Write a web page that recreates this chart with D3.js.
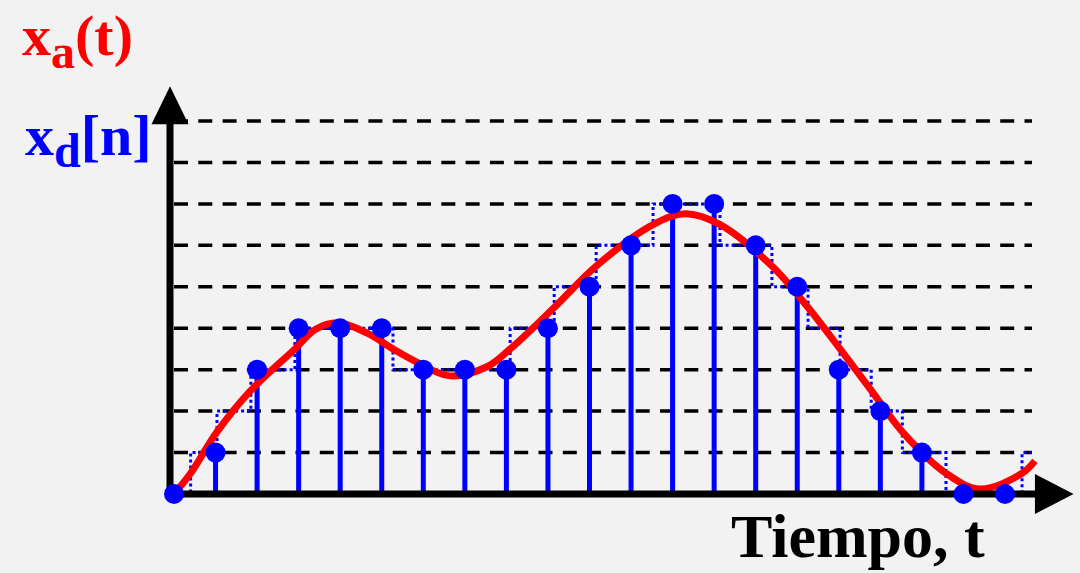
<!DOCTYPE html>
<html>
<head>
<meta charset="utf-8">
<script src="https://cdn.jsdelivr.net/npm/d3@7"></script>
<style>
  html, body { margin: 0; padding: 0; background: #f2f2f2; }
  svg { display: block; }
</style>
</head>
<body>
<div id="chart"></div>
<script>
// muestras (índice n) y su nivel cuantizado
var samples = [0,1,2,3,4,5,6,7,8,9,10,11,12,13,14,15,16,17,18,19,20];
var sampleLevels = [0,1,3,4,4,4,3,3,3,4,5,6,7,7,6,5,3,2,1,0,0];

// señal analógica x_a(t) (t en periodos, nivel)
var analogT = [0,0.4,1.035,1.85,2.91,3.4,3.95,4.65,5.27,5.75,6.64,7.53,8.09,9.15,10.16,11.53,12.3,13.14,14.39,15.26,16.03,16.78,17.53,18.58,19.4,20.41,20.72];
var analogLevel = [0,0.5,1.5,2.5,3.5,3.97,4.13,3.88,3.5,3.23,2.85,3.07,3.5,4.5,5.5,6.5,6.76,6.5,5.5,4.5,3.5,2.5,1.5,0.5,0.12,0.5,0.8];

// escalera punteada (cuantización): instantes de cambio y nivel
var stepT = [0,0.4,1.035,1.85,2.91,5.27,8.09,9.15,10.16,11.53,13.14,14.39,15.26,16.03,16.78,17.53,18.58,20.41,20.62];
var stepLevel = [0,1,2,3,4,3,4,5,6,7,6,5,4,3,2,1,0,1,1];

// niveles de cuantización (líneas discontinuas)
var gridLevels = [1,2,3,4,5,6,7,8,9];

var W = 1080, H = 573;
var svg = d3.select("#chart").append("svg").attr("width", W).attr("height", H);
svg.append("rect").attr("width", W).attr("height", H).attr("fill", "#f2f2f2");

var x = d3.scaleLinear().domain([0, 20]).range([174, 1005]);
var y = d3.scaleLinear().domain([0, 9]).range([494, 121]);

// líneas de nivel
svg.append("g").selectAll("line").data(gridLevels).join("line")
  .attr("x1", x(0)).attr("x2", x(20.65))
  .attr("y1", function(d){ return y(d); }).attr("y2", function(d){ return y(d); })
  .attr("stroke", "#000").attr("stroke-width", 3.5)
  .attr("stroke-dasharray", "14,10.3");

// escalera punteada
var stepData = stepT.map(function(t, i){ return [t, stepLevel[i]]; });
svg.append("path")
  .datum(stepData)
  .attr("d", d3.line().x(function(d){ return x(d[0]); }).y(function(d){ return y(d[1]); }).curve(d3.curveStepAfter))
  .attr("fill", "none").attr("stroke", "#0000ff").attr("stroke-width", 3)
  .attr("stroke-dasharray", "3,3");

// tallos
svg.append("g").selectAll("line").data(samples).join("line")
  .attr("x1", function(d){ return x(d); }).attr("x2", function(d){ return x(d); })
  .attr("y1", y(0)).attr("y2", function(d){ return y(sampleLevels[d]); })
  .attr("stroke", "#0000ff").attr("stroke-width", 5);

// señal analógica
var analogData = analogT.map(function(t, i){ return [t, analogLevel[i]]; });
svg.append("path")
  .datum(analogData)
  .attr("d", d3.line().x(function(d){ return x(d[0]); }).y(function(d){ return y(d[1]); }).curve(d3.curveCatmullRom.alpha(0.5)))
  .attr("fill", "none").attr("stroke", "#ff0000").attr("stroke-width", 7)
  .attr("stroke-linejoin", "round");

// ejes con flechas
var axisX0 = x(0) - 4;
svg.append("line")
  .attr("x1", axisX0).attr("x2", axisX0)
  .attr("y1", y(0) + 3.5).attr("y2", y(9.2))
  .attr("stroke", "#000").attr("stroke-width", 7);
svg.append("path")
  .attr("d", "M" + axisX0 + "," + y(9.84) + "L" + (axisX0 - 18.5) + "," + y(8.92) + "L" + (axisX0 + 18.5) + "," + y(8.92) + "Z")
  .attr("fill", "#000");
svg.append("line")
  .attr("x1", axisX0 - 3.5).attr("x2", x(20.8))
  .attr("y1", y(0)).attr("y2", y(0))
  .attr("stroke", "#000").attr("stroke-width", 7);
svg.append("path")
  .attr("d", "M" + x(21.65) + "," + y(0) + "L" + x(20.72) + "," + (y(0) - 20) + "L" + x(20.72) + "," + (y(0) + 20) + "Z")
  .attr("fill", "#000");

// puntos de muestra
svg.append("g").selectAll("circle").data(samples).join("circle")
  .attr("cx", function(d){ return x(d); })
  .attr("cy", function(d){ return y(sampleLevels[d]); })
  .attr("r", 10)
  .attr("fill", "#0000ff");

// textos
var serif = "'Liberation Serif', 'Times New Roman', serif";
var ta = svg.append("text").attr("x", 22).attr("y", 55)
  .attr("font-family", serif).attr("font-weight", "bold").attr("font-size", 58).attr("fill", "#ff0000");
ta.append("tspan").text("x");
ta.append("tspan").attr("font-size", 48).attr("dy", 13).text("a");
ta.append("tspan").attr("dy", -13).text("(t)");

var td = svg.append("text").attr("x", 25).attr("y", 155)
  .attr("font-family", serif).attr("font-weight", "bold").attr("font-size", 58).attr("fill", "#0000ff");
td.append("tspan").text("x");
td.append("tspan").attr("font-size", 48).attr("dy", 12).text("d");
td.append("tspan").attr("dy", -12).text("[n]");

svg.append("text").attr("x", 731).attr("y", 557)
  .attr("font-family", serif).attr("font-weight", "bold").attr("font-size", 62).attr("fill", "#000")
  .text("Tiempo, t");
</script>
</body>
</html>
